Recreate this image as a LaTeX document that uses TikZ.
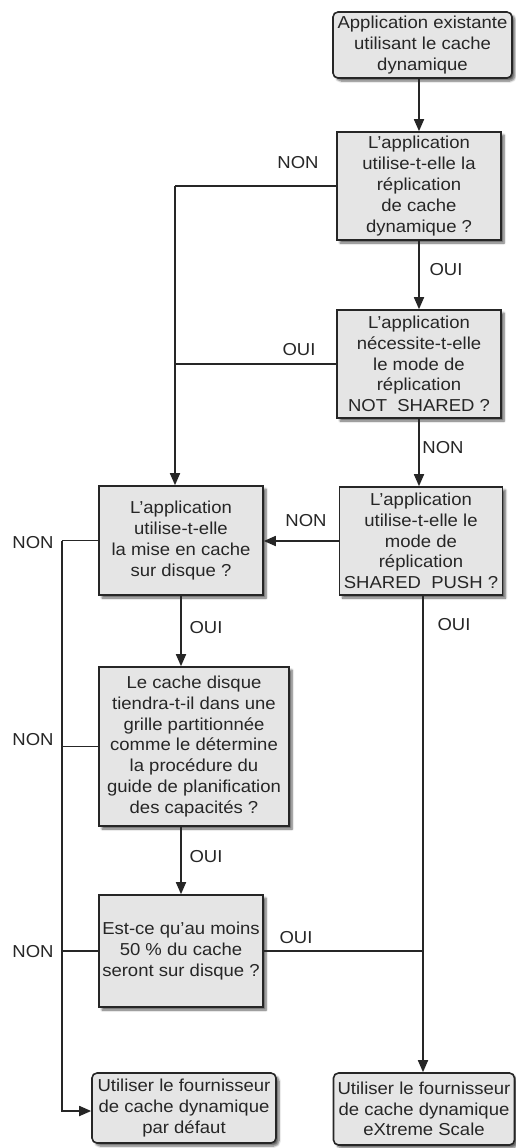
\documentclass[tikz,border=0pt]{standalone}
\usepackage{fontspec}
\setmainfont{Liberation Sans}[FakeStretch=1.07]
\usetikzlibrary{arrows.meta,shadows.blur}
\begin{document}
\begin{tikzpicture}[x=1pt,y=-1pt,
  font=\fontsize{17.3}{20.8}\selectfont,
  box/.style={draw=black!85, line width=1.6pt, fill=black!10, text=black!85,
    align=center, inner sep=0pt,
    blur shadow={shadow xshift=3pt, shadow yshift=-3pt, shadow blur steps=6, shadow opacity=60}},
  endbox/.style={box, rounded corners=5pt},
  lbl/.style={text=black!85, inner sep=0pt},
  ln/.style={draw=black!85, line width=1.7pt},
  arr/.style={ln, -{Triangle[length=12pt,width=10pt]}}]
\useasboundingbox (0,0) rectangle (516,1148);

% decision boxes and end boxes
\node[endbox, minimum width=179pt, minimum height=66pt] (b1) at (422.5,45)
  {Application existante\\utilisant le cache\\dynamique};
\node[box, minimum width=164pt, minimum height=108pt] (b2) at (419,186)
  {L'application\\utilise-t-elle la\\réplication\\de cache\\dynamique ?};
\node[box, minimum width=164pt, minimum height=108pt] (b3) at (419,364)
  {L'application\\nécessite-t-elle\\le mode de\\réplication\\NOT\ \ SHARED ?};
\node[box, minimum width=164pt, minimum height=109pt] (b4) at (181,540.5)
  {L'application\\utilise-t-elle\\la mise en cache\\sur disque ?};
\node[box, minimum width=163pt, minimum height=108pt] (b5) at (421,541)
  {L'application\\utilise-t-elle le\\mode de\\réplication\\SHARED\ \ PUSH ?};
\node[box, minimum width=190pt, minimum height=159pt] (b6) at (194,746.5)
  {Le cache disque\\tiendra-t-il dans une\\grille partitionnée\\comme le détermine\\la procédure du\\guide de planification\\des capacités ?};
\node[box, minimum width=164pt, minimum height=112pt] (b7) at (181,951)
  {Est-ce qu'au moins\\50 \% du cache\\seront sur disque ?};
\node[endbox, minimum width=184pt, minimum height=70pt] (b8) at (184,1108)
  {Utiliser le fournisseur\\de cache dynamique\\par défaut};
\node[endbox, minimum width=181pt, minimum height=72pt] (b9) at (424,1109)
  {Utiliser le fournisseur\\de cache dynamique\\eXtreme Scale};

% trunk lines
\coordinate (lt) at (175,0);
\coordinate (ft) at (62,0);
\coordinate (rt) at (423,0);

% connectors
\draw[arr] (b2.north |- b1.south) -- (b2.north);
\draw[arr] (b2.south) -- (b3.north);
\draw[arr] (b3.south) -- (b3.south |- b5.north);
\draw[ln] (b2.west) -- (b2.west -| lt);
\draw[ln] (b3.west) -- (b3.west -| lt);
\draw[arr] (b2.west -| lt) -- (b4.north -| lt);
\draw[arr] (b5.west) -- (b5.west -| b4.east);
\draw[ln] (b4.west) -- (b4.west -| ft);
\draw[ln] (b6.west) -- (b6.west -| ft);
\draw[ln] (b7.west) -- (b7.west -| ft);
\coordinate (fe) at (62,1111);
\draw[arr] (b4.west -| ft) -- (fe) -- (fe -| b8.west);
\draw[arr] (b4.south) -- (b4.south |- b6.north);
\draw[arr] (b7.north |- b6.south) -- (b7.north);
\draw[ln] (b7.east) -- (b7.east -| rt);
\draw[arr] (b5.south -| rt) -- (b9.north -| rt);

% branch labels
\node[lbl] (l1) at (298,163) {NON};
\node[lbl] (l2) at (446,270) {OUI};
\node[lbl] (l3) at (299,350) {OUI};
\node[lbl] (l4) at (443,448) {NON};
\node[lbl] (l5) at (306,521) {NON};
\node[lbl] (l6) at (33,543) {NON};
\node[lbl] (l7) at (206,628) {OUI};
\node[lbl] (l8) at (454,625) {OUI};
\node[lbl] (l9) at (33,740) {NON};
\node[lbl] (l10) at (206,857) {OUI};
\node[lbl] (l11) at (33,952) {NON};
\node[lbl] (l12) at (296,938) {OUI};
\end{tikzpicture}
\end{document}
